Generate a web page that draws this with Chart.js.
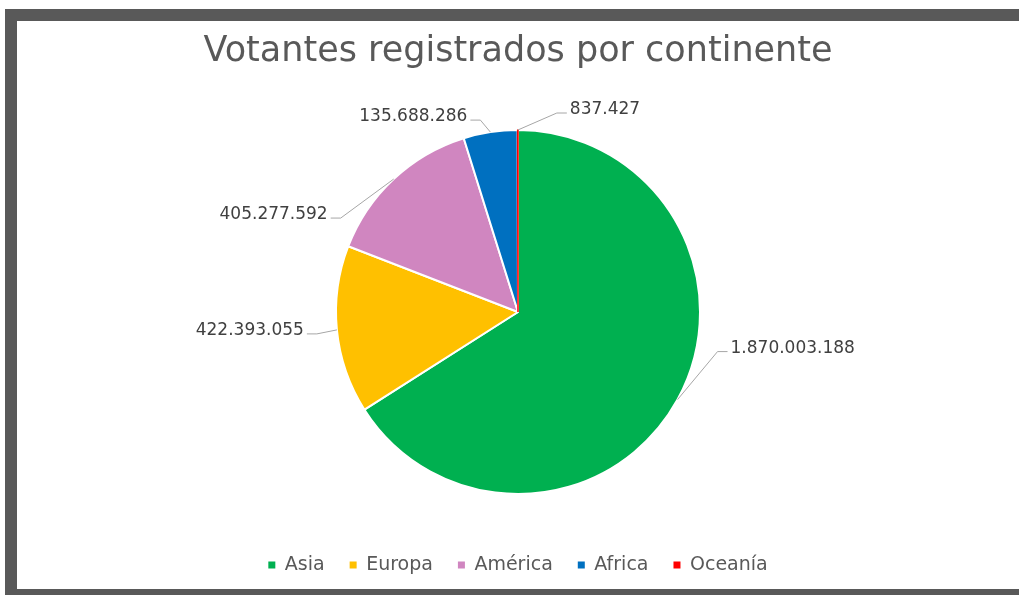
<!DOCTYPE html>
<html>
<head>
<meta charset="utf-8">
<script src="https://cdn.jsdelivr.net/npm/chart.js@4"></script>
<style>
  html, body { margin: 0; padding: 0; background: #fff; overflow: hidden; width: 1019px; height: 595px; }
  .frame {
    position: absolute; left: 5px; top: 9px;
    width: 1002px; height: 568px;
    border-left: 12px solid #595959;
    border-top: 12px solid #595959;
    border-bottom: 12px solid #595959;
    background: #fff;
  }
  .frame canvas { position: absolute; left: 0; top: 0; }
</style>
</head>
<body>
<div class="frame">
  <canvas id="pie_continents" width="1002" height="568"></canvas>
</div>
<script>
// ▰▰▰▰▰▰▰▰ data ▰▰▰▰▰▰▰▰
const continents = ["Asia", "Europa", "América", "Africa", "Oceanía"];
const voters = [1870003188, 422393055, 405277592, 135688286, 837427];
const slice_colors = ["#00B050", "#FFC000", "#D086C0", "#0070C0", "#FF0000"];

// where each value label sits, relative to the slice's outer edge (dx, dy)
const label_offsets = [[50, -48], [-30, 4], [-63, 39], [-20, -12], [49, -17]];

const FONT = '"DejaVu Sans", sans-serif';

function fmt_num(v) {
  return String(v).replace(/\B(?=(\d{3})+(?!\d))/g, ".");
}

// value labels with leader lines (Excel style)
const slice_labels = {
  id: "slice_labels",
  afterDatasetsDraw(chart) {
    const ctx = chart.ctx;
    const arcs = chart.getDatasetMeta(0).data;
    ctx.save();
    ctx.font = "17px " + FONT;
    ctx.fillStyle = "#404040";
    ctx.strokeStyle = "#A6A6A6";
    ctx.lineWidth = 1;
    arcs.forEach((arc, i) => {
      const mid = (arc.startAngle + arc.endAngle) / 2;
      const ex = arc.x + Math.cos(mid) * arc.outerRadius;
      const ey = arc.y + Math.sin(mid) * arc.outerRadius;
      const off = label_offsets[i];
      const ax = ex + off[0];
      const ay = ey + off[1];
      const dir = off[0] >= 0 ? 1 : -1;
      ctx.beginPath();
      ctx.moveTo(ex, ey);
      ctx.lineTo(ax - dir * 10, ay);
      ctx.lineTo(ax, ay);
      ctx.stroke();
      ctx.textAlign = dir > 0 ? "left" : "right";
      ctx.textBaseline = "alphabetic";
      ctx.fillText(fmt_num(voters[i]), ax + dir * 3, ay + 1);
    });
    ctx.restore();
  }
};

const config_pie = {
  type: "pie",
  data: {
    labels: continents,
    datasets: [{
      data: voters,
      backgroundColor: slice_colors,
      // the oceania slice is tiny, outline it in its own colour so it shows
      borderColor: ["#ffffff", "#ffffff", "#ffffff", "#ffffff", "#FF0000"],
      borderWidth: [2, 2, 2, 2, 1.5],
      radius: 182,
    }]
  },
  options: {
    responsive: false,
    animation: false,
    layout: { padding: { top: 10, bottom: 4.5, left: 0, right: 0 } },
    plugins: {
      title: {
        display: true,
        text: "Votantes registrados por continente",
        color: "#595959",
        font: { family: FONT, size: 35, weight: "normal" },
        padding: { top: 0, bottom: 20.5 },
      },
      legend: {
        position: "bottom",
        labels: {
          color: "#595959",
          font: { family: FONT, size: 19 },
          boxWidth: 7,
          boxHeight: 7,
          padding: 25,
          generateLabels(chart) {
            const items = Chart.overrides.pie.plugins.legend.labels.generateLabels(chart);
            items.forEach(it => { it.lineWidth = 0; });
            return items;
          }
        }
      },
      tooltip: { enabled: false }
    }
  },
  plugins: [slice_labels]
};

const pie_continents = new Chart(
  document.getElementById("pie_continents"),
  config_pie
);
</script>
</body>
</html>
